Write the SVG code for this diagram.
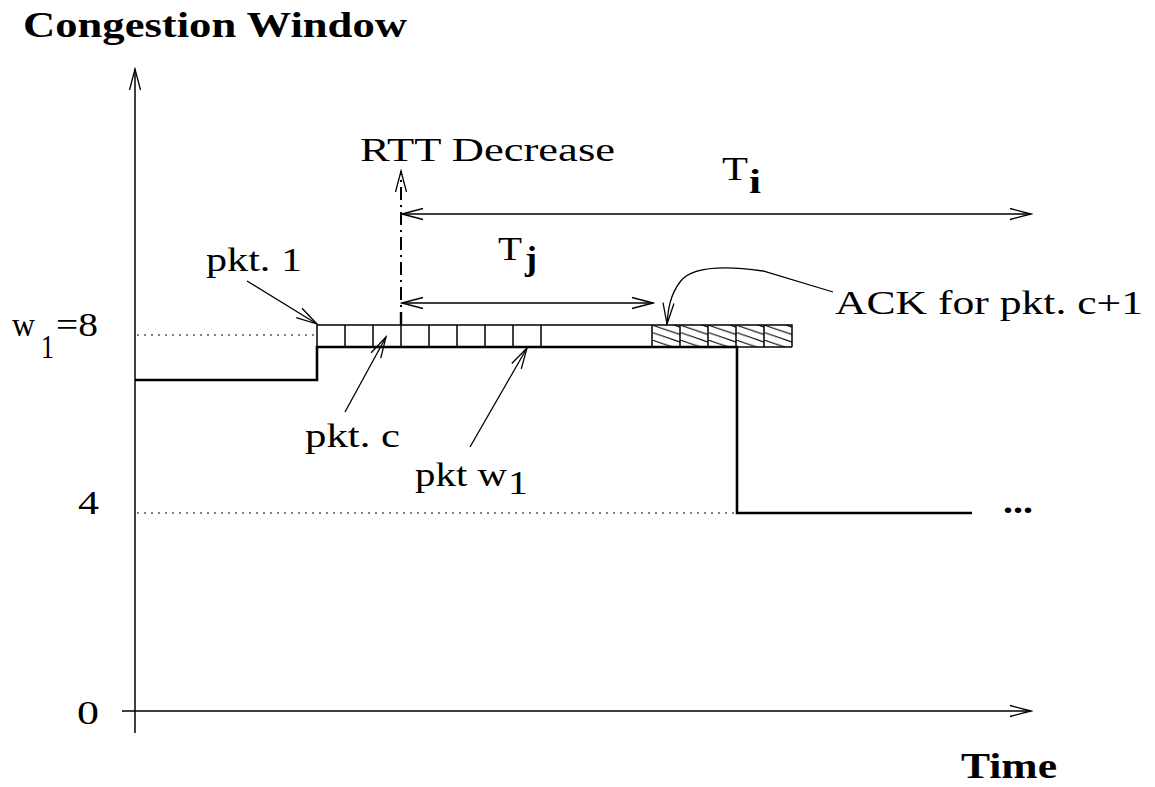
<svg xmlns="http://www.w3.org/2000/svg" width="1155" height="787" viewBox="0 0 1155 787">
<style>
text{font-family:"Liberation Serif","Times New Roman",serif;fill:#000}
.b{font-weight:bold}
.r{font-size:34px}
.ln{fill:none;stroke:#000;stroke-width:1.5}
.thin{fill:none;stroke:#000;stroke-width:1.3}
.step{fill:none;stroke:#000;stroke-width:2.6}
.dot{fill:none;stroke:#000;stroke-width:1.2;stroke-dasharray:2 5}
.box{fill:none;stroke:#000;stroke-width:1.5}
</style>
<defs>
<marker id="arr" viewBox="-22 -7 24 14" markerWidth="24" markerHeight="14" refX="0" refY="0" orient="auto-start-reverse" markerUnits="userSpaceOnUse">
<path d="M-21,-5.5 L0,0 L-21,5.5" fill="none" stroke="#000" stroke-width="1.3"/>
</marker>
<pattern id="hatch" patternUnits="userSpaceOnUse" x="652" y="325" width="28" height="7.5">
<path d="M0,-7.5 L28,2 M0,0 L28,9.5 M0,-15 L28,-5.5" stroke="#000" stroke-width="1.1" fill="none"/>
</pattern>
</defs>

<g id="connectors">
<line class="ln" x1="135" y1="733" x2="135" y2="69" marker-end="url(#arr)"/>
<line class="ln" x1="122" y1="711" x2="1031" y2="711" marker-end="url(#arr)"/>
<line class="dot" x1="137" y1="335" x2="316" y2="335"/>
<line class="dot" x1="137" y1="513" x2="736" y2="513"/>
<line x1="401" y1="325" x2="401" y2="171" stroke="#000" stroke-width="2" stroke-dasharray="13 5 2 5" marker-end="url(#arr)"/>
<line x1="401" y1="325" x2="401" y2="312" stroke="#000" stroke-width="2.4"/>
<line class="thin" x1="402" y1="214" x2="1031" y2="214" marker-start="url(#arr)" marker-end="url(#arr)"/>
<line class="thin" x1="402" y1="303" x2="653" y2="303" marker-start="url(#arr)" marker-end="url(#arr)"/>
<line class="thin" x1="247" y1="281" x2="317" y2="324" marker-end="url(#arr)"/>
<line class="thin" x1="345" y1="412" x2="386" y2="337" marker-end="url(#arr)"/>
<line class="thin" x1="470" y1="447" x2="527" y2="348" marker-end="url(#arr)"/>
<path class="thin" d="M833,292 L763,271 C720,265 690,268 680,282 C670,295 668,310 667,324" marker-end="url(#arr)"/>
</g>

<g id="window-curve">
<path class="step" d="M135,380 L317,380 L317,347 L737,347 L737,513 L972,513"/>
</g>

<g id="packets">
<rect x="652" y="325" width="140" height="22" fill="url(#hatch)"/>
<path class="box" d="M317,347 L317,325 L792,325 L792,347 M345,325 V347 M373,325 V347 M401,325 V347 M429,325 V347 M457,325 V347 M485,325 V347 M513,325 V347 M541,325 V347 M652,325 V347 M680,325 V347 M708,325 V347 M736,325 V347 M764,325 V347 M737,347 H792"/>
</g>

<g id="labels">
<text class="b" x="23" y="37" font-size="35" textLength="384" lengthAdjust="spacingAndGlyphs">Congestion Window</text>
<text class="r" x="360" y="161" textLength="255" lengthAdjust="spacingAndGlyphs">RTT Decrease</text>
<text class="r" x="722" y="180" font-size="35" textLength="26" lengthAdjust="spacingAndGlyphs">T</text>
<text class="b" x="749" y="193" font-size="33" textLength="12" lengthAdjust="spacingAndGlyphs">i</text>
<text class="r" x="498" y="260" font-size="35" textLength="24" lengthAdjust="spacingAndGlyphs">T</text>
<text class="b" x="525" y="270" font-size="33" textLength="12" lengthAdjust="spacingAndGlyphs">j</text>
<text class="r" x="206" y="271" textLength="96" lengthAdjust="spacingAndGlyphs">pkt. 1</text>
<text class="r" x="835" y="314" textLength="308" lengthAdjust="spacingAndGlyphs">ACK for pkt. c+1</text>
<text class="r" x="12" y="336" textLength="23" lengthAdjust="spacingAndGlyphs">w</text>
<text class="r" x="41" y="358" textLength="13" lengthAdjust="spacingAndGlyphs">1</text>
<text class="r" x="56" y="336" textLength="42" lengthAdjust="spacingAndGlyphs">=8</text>
<text class="r" x="305" y="447" textLength="95" lengthAdjust="spacingAndGlyphs">pkt. c</text>
<text class="r" x="415" y="486" textLength="92" lengthAdjust="spacingAndGlyphs">pkt w</text>
<text class="r" x="508" y="494" textLength="20" lengthAdjust="spacingAndGlyphs">1</text>
<text class="r" x="78" y="514" textLength="21" lengthAdjust="spacingAndGlyphs">4</text>
<text class="r" x="77" y="724" textLength="22" lengthAdjust="spacingAndGlyphs">0</text>
<text class="b" x="1003" y="513" font-size="34" textLength="30" lengthAdjust="spacingAndGlyphs">...</text>
<text class="b" x="961" y="778" font-size="35" textLength="96" lengthAdjust="spacingAndGlyphs">Time</text>
</g>
</svg>
